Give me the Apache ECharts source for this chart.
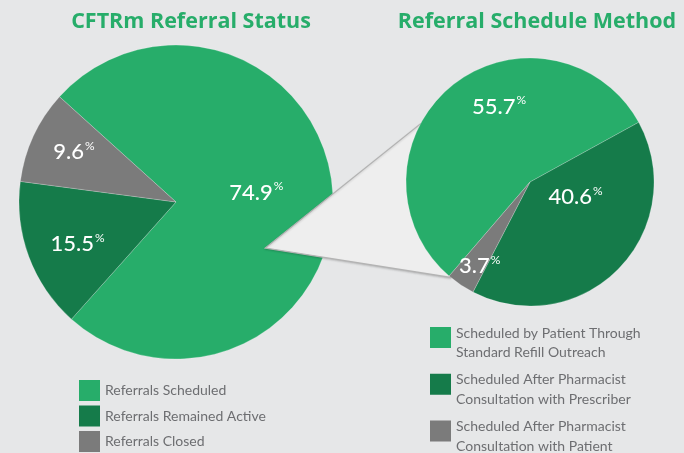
<!DOCTYPE html>
<html>
<head>
<meta charset="utf-8">
<script src="https://cdn.jsdelivr.net/npm/echarts@6/dist/echarts.min.js"></script>
<style>
  html, body { margin: 0; padding: 0; background: #e6e7e8; }
  #chart { width: 684px; height: 453px; }
</style>
</head>
<body>
<div id="chart"></div>
<script>
// ---- data ----
var statusNames = ['Referrals Scheduled', 'Referrals Remained Active', 'Referrals Closed'];
var statusValues = [74.9, 15.5, 9.6];

var methodNames = [
  'Scheduled by Patient Through Standard Refill Outreach',
  'Scheduled After Pharmacist Consultation with Prescriber',
  'Scheduled After Pharmacist Consultation with Patient'
];
var methodLegendText = [
  'Scheduled by Patient Through\nStandard Refill Outreach',
  'Scheduled After Pharmacist\nConsultation with Prescriber',
  'Scheduled After Pharmacist\nConsultation with Patient'
];
var methodValues = [55.7, 40.6, 3.7];

var titles = ['CFTRm Referral Status', 'Referral Schedule Method'];

// ---- styling / layout ----
var COLORS = ['#27ad6a', '#157b4a', '#7b7b7b'];
var BG = '#e6e7e8';
var LEFT = { center: [176, 202], r: 157, start: 137.9 };
var RIGHT = { center: [530, 182], r: 124, start: 229.3 };
var LEFT_LABEL_SHIFT = [[-1, -5], [-22, 14], [-28, -16]];
var RIGHT_LABEL_SHIFT = [[10, -25], [-1, -30], [-14, 30]];

function polar(c, r, deg) {
  var a = deg * Math.PI / 180;
  return [c[0] + r * Math.cos(a), c[1] - r * Math.sin(a)];
}
// connector (zoom wedge) from inside the left pie to the right pie edge
var connector = [
  polar(LEFT.center, LEFT.r * 0.64, -27.3),
  polar(RIGHT.center, RIGHT.r, 152),
  polar(RIGHT.center, RIGHT.r, RIGHT.start + 1)
];

// square icon sitting at the top of a two-line legend block
var TOP_SQUARE_ICON = 'path://M0 0L0.01 0M0 3.5L21 3.5L21 24.5L0 24.5ZM0 39L0.01 39';

var labelRich = {
  n: { fontFamily: 'Lato', fontSize: 22, fontWeight: 500, color: '#ffffff', lineHeight: 24 },
  p: { fontFamily: 'Lato', fontSize: 12, color: '#ffffff', verticalAlign: 'top', lineHeight: 14, padding: [0, 0, 0, 1] }
};

var chart = echarts.init(document.getElementById('chart'));
chart.setOption({
  backgroundColor: BG,
  animation: false,
  color: COLORS,
  title: [
    { text: titles[0], left: 186, top: 6, textAlign: 'center',
      textStyle: { fontFamily: 'Open Sans', fontWeight: 'bold', fontSize: 21.5, color: '#27ad6a' } },
    { text: titles[1], left: 532, top: 6, textAlign: 'center',
      textStyle: { fontFamily: 'Open Sans', fontWeight: 'bold', fontSize: 21.5, color: '#27ad6a' } }
  ],
  legend: [
    {
      data: statusNames, orient: 'vertical', left: 79, top: 380, height: 200, padding: 0,
      icon: 'rect', itemWidth: 21, itemHeight: 21, itemGap: 4.5,
      selectedMode: false,
      itemStyle: { borderWidth: 0 },
      textStyle: { fontFamily: 'Lato', fontSize: 14, color: '#6d6e71' }
    },
    {
      data: methodNames, orient: 'vertical', left: 430, top: 323.5, height: 300, padding: 0,
      icon: TOP_SQUARE_ICON, itemWidth: 21, itemHeight: 39, itemGap: 7.7,
      selectedMode: false,
      itemStyle: { borderWidth: 0 },
      formatter: function (name) { return methodLegendText[methodNames.indexOf(name)]; },
      textStyle: { fontFamily: 'Lato', fontSize: 14, color: '#6d6e71', lineHeight: 19.5 }
    }
  ],
  graphic: [
    {
      type: 'polygon', z: 5,
      shape: { points: connector },
      style: { fill: '#eeeeee', stroke: '#b3b3b3', lineWidth: 1.2,
               shadowColor: 'rgba(0,0,0,0.15)', shadowBlur: 2, shadowOffsetY: 1 }
    }
  ],
  series: [
    {
      type: 'pie', z: 2, center: LEFT.center, radius: LEFT.r,
      startAngle: LEFT.start, clockwise: true,
      emphasis: { disabled: true }, silent: true,
      itemStyle: { borderColor: 'rgba(255,255,255,0.35)', borderWidth: 0.6 },
      label: { position: 'inside', formatter: '{n|{c}}{p|%}', rich: labelRich },
      labelLine: { show: false },
      labelLayout: function (p) { var s = LEFT_LABEL_SHIFT[p.dataIndex]; return { dx: s[0], dy: s[1] }; },
      data: statusNames.map(function (n, i) { return { name: n, value: statusValues[i] }; })
    },
    {
      type: 'pie', z: 10, center: RIGHT.center, radius: RIGHT.r,
      startAngle: RIGHT.start, clockwise: true,
      emphasis: { disabled: true }, silent: true,
      itemStyle: { borderColor: 'rgba(255,255,255,0.35)', borderWidth: 0.6 },
      label: { position: 'inside', formatter: '{n|{c}}{p|%}', rich: labelRich },
      labelLine: { show: false },
      labelLayout: function (p) { var s = RIGHT_LABEL_SHIFT[p.dataIndex]; return { dx: s[0], dy: s[1] }; },
      data: methodNames.map(function (n, i) { return { name: n, value: methodValues[i] }; })
    }
  ]
});
</script>
</body>
</html>
